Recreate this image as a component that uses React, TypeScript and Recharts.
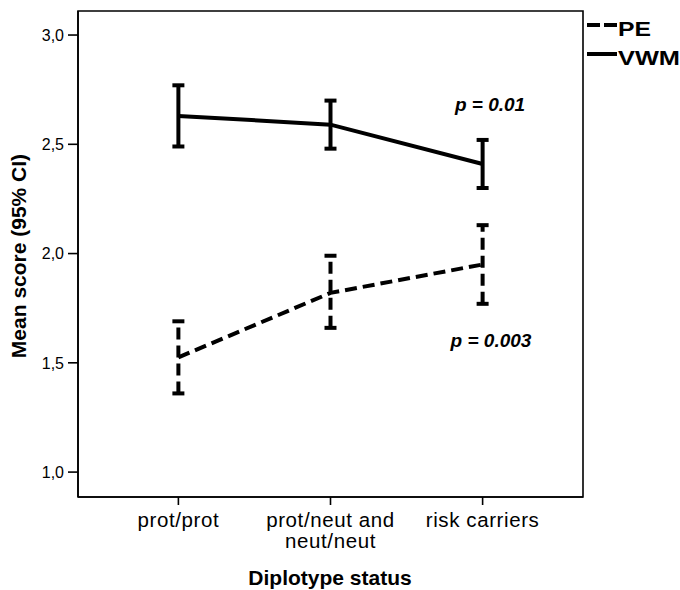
import React from "react";
import { LineChart, Line, XAxis, YAxis, ErrorBar, ReferenceArea } from "recharts";

const categories = ["prot/prot", "prot/neut and\nneut/neut", "risk carriers"];
const vwmMean = [2.63, 2.59, 2.41];
const vwmLow = [2.49, 2.48, 2.3];
const vwmHigh = [2.77, 2.7, 2.52];
const peMean = [1.525, 1.82, 1.95];
const peLow = [1.36, 1.66, 1.77];
const peHigh = [1.69, 1.99, 2.13];
const yTicks = [1.0, 1.5, 2.0, 2.5, 3.0];

const data = categories.map((c, i) => ({
  pos: i + 1,
  label: c,
  vwm: vwmMean[i],
  vwmErr: [vwmMean[i] - vwmLow[i], vwmHigh[i] - vwmMean[i]],
  pe: peMean[i],
  peErr: [peMean[i] - peLow[i], peHigh[i] - peMean[i]],
}));

const xDomain = [0.34, 3.66];
const yDomain = [0.886, 3.11];
const font = "'Liberation Sans', Arial, sans-serif";

function XTick(props: any) {
  const { x, y, payload } = props;
  const lines = categories[payload.value - 1].split("\n");
  return (
    <text x={x} y={y} textAnchor="middle" fontFamily={font} fontSize={20.5} letterSpacing={0.6} fill="#000">
      {lines.map((l, i) => (
        <tspan key={i} x={x} dy={i === 0 ? 20 : 21}>
          {l}
        </tspan>
      ))}
    </text>
  );
}

export default function App() {
  return (
    <div style={{ position: "absolute", left: 0, top: 0, width: 680, height: 590, background: "#fff" }}>
      <LineChart
        width={680}
        height={590}
        data={data}
        margin={{ top: 11, right: 97, bottom: 0, left: 18 }}
      >
        <XAxis
          dataKey="pos"
          type="number"
          domain={xDomain}
          ticks={[1, 2, 3]}
          tick={<XTick />}
          tickSize={8}
          tickMargin={2}
          height={93}
          stroke="#000"
          strokeWidth={1.6}
          allowDataOverflow
        />
        <YAxis
          type="number"
          domain={yDomain}
          ticks={yTicks}
          tickFormatter={(v: number) => v.toFixed(1).replace(".", ",")}
          tick={{ fontFamily: font, fontSize: 16, fill: "#000" }}
          tickSize={10}
          tickMargin={4}
          width={60}
          stroke="#000"
          strokeWidth={1.6}
          allowDataOverflow
        />
        {/* plot frame */}
        <ReferenceArea
          x1={xDomain[0]}
          x2={xDomain[1]}
          y1={yDomain[0]}
          y2={yDomain[1]}
          fill="none"
          stroke="#000"
          strokeWidth={1.6}
          ifOverflow="visible"
        />
        <Line
          dataKey="vwm"
          stroke="#000"
          strokeWidth={4}
          dot={false}
          isAnimationActive={false}
        >
          <ErrorBar dataKey="vwmErr" width={6} stroke="#000" strokeWidth={4} direction="y" isAnimationActive={false} />
        </Line>
        <Line
          dataKey="pe"
          stroke="#000"
          strokeWidth={4}
          strokeDasharray="12 6"
          dot={false}
          isAnimationActive={false}
        >
          <ErrorBar dataKey="peErr" width={6} stroke="#000" strokeWidth={4} strokeDasharray="12 6" direction="y" isAnimationActive={false} />
        </Line>
      </LineChart>
      <svg
        width={680}
        height={590}
        style={{ position: "absolute", left: 0, top: 0, pointerEvents: "none" }}
        fontFamily={font}
      >
        <line x1={587} y1={25} x2={617} y2={25} stroke="#000" strokeWidth={4} strokeDasharray="13 4" />
        <text x={618} y={36} fontSize={21} fontWeight="bold" textLength={33} lengthAdjust="spacingAndGlyphs">PE</text>
        <line x1={587} y1={54} x2={617} y2={54} stroke="#000" strokeWidth={4} />
        <text x={618} y={65} fontSize={21} fontWeight="bold" textLength={62} lengthAdjust="spacingAndGlyphs">VWM</text>
        <text x={490} y={111} fontSize={19} fontWeight="bold" fontStyle="italic" textAnchor="middle">p = 0.01</text>
        <text x={491} y={347} fontSize={19} fontWeight="bold" fontStyle="italic" textAnchor="middle">p = 0.003</text>
        <text x={330} y={585} fontSize={21} fontWeight="bold" textAnchor="middle">Diplotype status</text>
        <text
          x={0}
          y={0}
          fontSize={21}
          fontWeight="bold"
          textAnchor="middle"
          transform="translate(26 256) rotate(-90)"
        >
          Mean score (95% CI)
        </text>
      </svg>
    </div>
  );
}
